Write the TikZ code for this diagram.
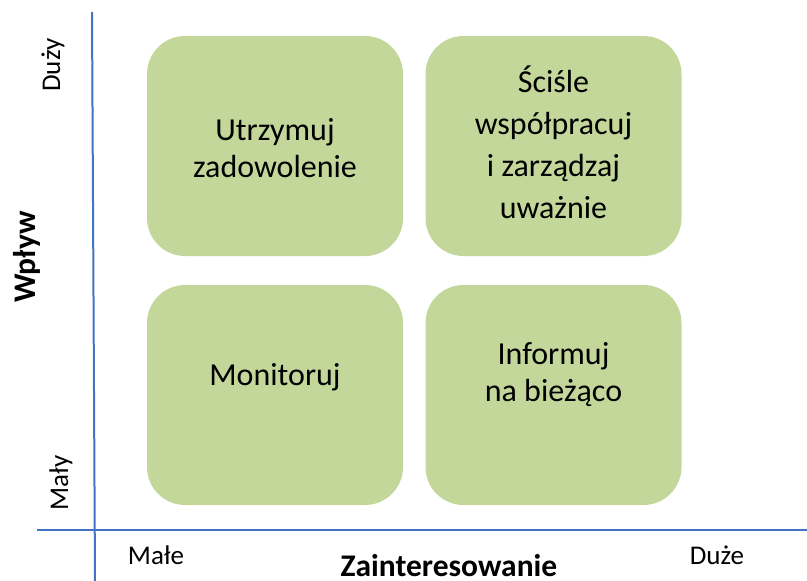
\documentclass[tikz,border=0pt]{standalone}
\usepackage{fontspec}
\setmainfont{Carlito}
\definecolor{boxgreen}{RGB}{196,215,155}
\definecolor{axisblue}{RGB}{68,114,196}
\tikzset{
  quad/.style={fill=boxgreen, draw=none, rounded corners=38pt, minimum width=256pt, minimum height=220pt, inner sep=0pt},
  quadtext/.style={align=center, font=\fontsize{32}{37}\selectfont, inner sep=0pt},
  axisline/.style={draw=axisblue, line width=2pt},
  lbl/.style={font=\fontsize{27}{30}\selectfont, inner sep=0pt},
  title/.style={font=\fontsize{31.5}{34}\selectfont\bfseries, inner sep=0pt}
}
\begin{document}
\begin{tikzpicture}[x=1pt,y=-1pt]
\useasboundingbox (0,0) rectangle (807,581);
% axes
\coordinate (vtop) at (92,12);
\coordinate (vbot) at (95,581);
\coordinate (hleft) at (37,530);
\coordinate (hright) at (807,530);
\draw[axisline] (vtop) -- (vbot);
\draw[axisline] (hleft) -- (hright);
% quadrants
\node[quad] (ul) at (275,146) {};
\node[quad] (ur) at (553.5,146) {};
\node[quad] (ll) at (275,395) {};
\node[quad] (lr) at (553.5,395) {};
\node[quadtext] (ult) at (275,148) {Utrzymuj\\zadowolenie};
\node[quadtext, font=\fontsize{32}{42}\selectfont] (urt) at (553.5,142) {Ściśle\\współpracuj\\i zarządzaj\\uważnie};
\node[quadtext] (llt) at (275,377) {Monitoruj};
\node[quadtext] (lrt) at (553.5,375) {Informuj\\na bieżąco};
% axis labels
\node[lbl, rotate=90, anchor=base] (duzy) at (60,65) {Duży};
\node[lbl, rotate=90, anchor=base] (maly) at (68,483) {Mały};
\node[title, rotate=90, anchor=base] (wplyw) at (35,257) {Wpływ};
\node[lbl, anchor=base] (male) at (156,564) {Małe};
\node[lbl, anchor=base] (duze) at (717,564) {Duże};
\node[title, anchor=base] (zaint) at (449,576) {Zainteresowanie};
\end{tikzpicture}
\end{document}
